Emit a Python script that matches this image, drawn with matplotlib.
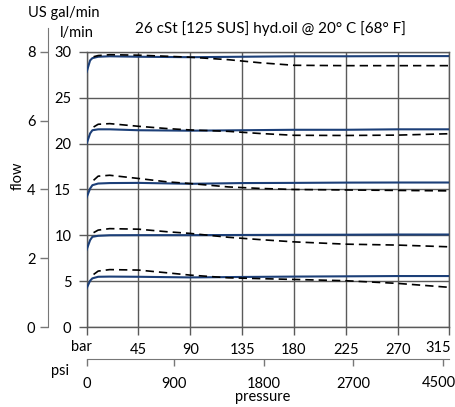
import numpy as np
import matplotlib.pyplot as plt

plt.rcParams['font.family'] = ['Lato', 'DejaVu Sans']

# pressure points (bar) and flow readings (l/min)
bar_solid = [0, 3, 5, 10, 20, 45, 90, 135, 180, 225, 270, 315]
solid_30 = [27.8, 29.05, 29.3, 29.45, 29.5, 29.45, 29.4, 29.45, 29.5, 29.5, 29.52, 29.52]
solid_21 = [20.0, 21.1, 21.45, 21.55, 21.55, 21.45, 21.4, 21.45, 21.5, 21.5, 21.55, 21.55]
solid_15 = [14.15, 15.1, 15.47, 15.65, 15.7, 15.72, 15.62, 15.7, 15.72, 15.75, 15.76, 15.76]
solid_10 = [8.45, 9.49, 9.85, 9.96, 10.02, 10.03, 10.03, 10.05, 10.07, 10.08, 10.1, 10.1]
solid_5 = [4.25, 5.07, 5.33, 5.5, 5.52, 5.5, 5.43, 5.48, 5.52, 5.55, 5.58, 5.58]

bar_dash = [6, 10, 20, 45, 70, 90, 123, 150, 180, 225, 270, 315]
dash_30 = [29.45, 29.58, 29.67, 29.62, 29.5, 29.4, 29.13, 28.8, 28.52, 28.48, 28.48, 28.48]
dash_21 = [21.8, 22.1, 22.17, 21.88, 21.63, 21.48, 21.33, 21.1, 20.9, 20.88, 20.92, 21.07]
dash_15 = [16.0, 16.45, 16.55, 16.2, 15.83, 15.65, 15.28, 15.12, 15.0, 14.95, 14.9, 14.85]
dash_10 = [10.3, 10.58, 10.74, 10.68, 10.4, 10.22, 9.8, 9.55, 9.3, 9.05, 8.95, 8.76]
dash_5 = [5.75, 6.12, 6.28, 6.23, 5.93, 5.68, 5.39, 5.3, 5.21, 5.07, 4.78, 4.35]

bar_ticks = [0, 45, 90, 135, 180, 225, 270, 315]
lpm_ticks = [0, 5, 10, 15, 20, 25, 30]
gpm_ticks = [0, 2, 4, 6, 8]
psi_labels = ['0', '900', '1800', '2700', '4500']
psi_pos_bar = [0, 75.6, 153.8, 231.6, 309.5]  # where the psi ticks sit on the bar scale
L_PER_GAL = 3.785

grid_c = '#5a5a5a'
axis_c = '#777777'
blue = '#1c3f78'
fs = 10.5

fig = plt.figure(figsize=(4.56, 4.07), dpi=100)
left, bottom, width, height = 0.190, 0.1958, 0.7957, 0.6772
ax = fig.add_axes([left, bottom, width, height])

for sb in [solid_30, solid_21, solid_15, solid_10, solid_5]:
    ax.plot(bar_solid, sb, color=blue, lw=1.5, zorder=3)
for db in [dash_30, dash_21, dash_15, dash_10, dash_5]:
    ax.plot(bar_dash, db, color='black', lw=1.2, dashes=(5, 3), zorder=4)

ax.set_xlim(0, 315)
ax.set_ylim(0, 30)
ax.set_xticks(bar_ticks)
# first and last labels are placed by hand below
ax.set_xticklabels([''] + [str(t) for t in bar_ticks[1:-1]] + [''])
ax.set_yticks(lpm_ticks)
ax.grid(True, color=grid_c, lw=1.0)
for s in ax.spines.values():
    s.set_color(grid_c)
    s.set_linewidth(1.0)
ax.tick_params(axis='x', direction='out', length=6, width=1.0, color=grid_c,
               labelsize=fs, pad=5)
ax.tick_params(axis='y', direction='out', length=5.5, width=1.0, color=grid_c,
               labelsize=fs, pad=5.5)
ax.annotate('bar', xy=(0, 0), xytext=(-4, -14), textcoords='offset points',
            ha='center', va='center', fontsize=fs)
ax.annotate(str(bar_ticks[-1]), xy=(bar_ticks[-1], 0), xytext=(1, -15),
            textcoords='offset points', ha='right', va='center', fontsize=fs)

# US gal/min axis on the far left
ax2 = fig.add_axes([left, bottom, width, height])
ax2.patch.set_visible(False)
ax2.set_ylim(0, 30 / L_PER_GAL)
ax2.set_xlim(0, 1)
ax2.set_xticks([])
for k in ['top', 'right', 'bottom']:
    ax2.spines[k].set_visible(False)
ax2.spines['left'].set_position(('outward', 27.6))
ax2.spines['left'].set_color(axis_c)
ax2.spines['left'].set_bounds(0, 8.68)
ax2.set_yticks(gpm_ticks)
ax2.tick_params(axis='y', direction='out', length=5.8, width=1.0, color=axis_c,
                labelsize=fs, pad=3.5)

# psi axis
ax3 = fig.add_axes([left, 0.1172, width, 0.0001])
ax3.patch.set_visible(False)
for k in ['top', 'right', 'left']:
    ax3.spines[k].set_visible(False)
ax3.spines['bottom'].set_color(axis_c)
ax3.set_xlim(0, 315)
ax3.set_yticks([])
ax3.set_xticks(psi_pos_bar)
ax3.set_xticklabels(psi_labels[:-1] + [''])
ax3.tick_params(axis='x', direction='out', length=5, width=1.0, color=axis_c,
                labelsize=fs, pad=8)
ax3.annotate(psi_labels[-1], xy=(psi_pos_bar[-1], 0), xytext=(9, -17),
             textcoords='offset points', ha='right', va='center', fontsize=fs)

fig.text(60 / 456, 1 - 371 / 407, 'psi', ha='center', va='center', fontsize=fs)
fig.text(263 / 456, 1 - 397 / 407, 'pressure', ha='center', va='center', fontsize=fs)
fig.text(18 / 456, 1 - 176 / 407, 'flow', ha='center', va='center', fontsize=fs,
         rotation=90)
fig.text(64 / 456, 1 - 13.5 / 407, 'US gal/min', ha='center', va='center', fontsize=fs)
fig.text(76.5 / 456, 1 - 33.5 / 407, 'l/min', ha='center', va='center', fontsize=fs)
fig.text(270 / 456, 1 - 29 / 407, '26 cSt [125 SUS] hyd.oil @ 20° C [68° F]',
         ha='center', va='center', fontsize=11)

fig.savefig('out.png', dpi=100)
